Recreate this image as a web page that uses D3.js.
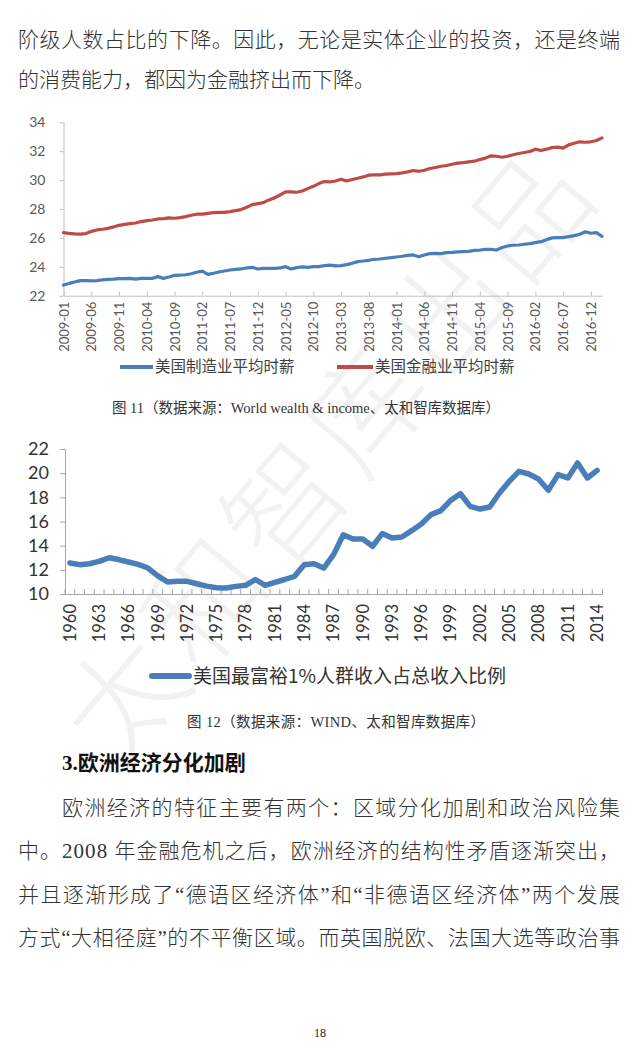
<!DOCTYPE html>
<html>
<head>
<meta charset="utf-8">
<script src="https://cdn.jsdelivr.net/npm/d3@7"></script>
<style>
  body { margin: 0; background: #fff; }
</style>
</head>
<body>
<div id="container"></div>
<script>
// ---- data ----
const monthLabels = ["2009-01","2009-06","2009-11","2010-04","2010-09","2011-02","2011-07","2011-12",
  "2012-05","2012-10","2013-03","2013-08","2014-01","2014-06","2014-11","2015-04","2015-09",
  "2016-02","2016-07","2016-12"];
// monthly, 2009-01 .. 2017-02
const mfgWage = [
  22.74, 22.85, 22.95, 23.04, 23.04, 23.02, 23.04, 23.09, 23.13, 23.15,
  23.18, 23.18, 23.20, 23.15, 23.20, 23.20, 23.20, 23.32, 23.20, 23.29,
  23.41, 23.43, 23.45, 23.52, 23.62, 23.70, 23.48, 23.55, 23.64, 23.71,
  23.78, 23.82, 23.85, 23.92, 23.96, 23.85, 23.89, 23.89, 23.89, 23.92,
  24.01, 23.85, 23.94, 23.99, 23.96, 24.01, 24.01, 24.08, 24.12, 24.06,
  24.08, 24.15, 24.24, 24.36, 24.40, 24.45, 24.52, 24.54, 24.59, 24.63,
  24.68, 24.73, 24.79, 24.82, 24.70, 24.82, 24.91, 24.93, 24.91, 24.98,
  25.00, 25.03, 25.05, 25.07, 25.14, 25.16, 25.21, 25.21, 25.16, 25.33,
  25.44, 25.49, 25.51, 25.56, 25.60, 25.67, 25.74, 25.88, 26.00, 26.02,
  26.02, 26.09, 26.16, 26.25, 26.43, 26.32, 26.36, 26.11];
const finWage = [
  26.36, 26.31, 26.28, 26.26, 26.30, 26.45, 26.55, 26.60, 26.66, 26.76,
  26.87, 26.94, 26.99, 27.03, 27.13, 27.20, 27.24, 27.31, 27.33, 27.38,
  27.36, 27.40, 27.47, 27.57, 27.64, 27.64, 27.70, 27.75, 27.77, 27.77,
  27.82, 27.89, 27.96, 28.12, 28.30, 28.37, 28.44, 28.63, 28.77, 28.97,
  29.18, 29.18, 29.16, 29.25, 29.41, 29.57, 29.76, 29.90, 29.88, 29.94,
  30.06, 29.94, 30.04, 30.13, 30.22, 30.34, 30.36, 30.36, 30.41, 30.43,
  30.45, 30.50, 30.57, 30.66, 30.61, 30.68, 30.80, 30.87, 30.96, 31.01,
  31.10, 31.17, 31.21, 31.26, 31.31, 31.42, 31.52, 31.68, 31.65, 31.58,
  31.65, 31.75, 31.84, 31.91, 31.98, 32.14, 32.05, 32.14, 32.25, 32.28,
  32.21, 32.44, 32.55, 32.65, 32.62, 32.65, 32.74, 32.92];
const wageTicks = [22, 24, 26, 28, 30, 32, 34];
const wageSeries = ["美国制造业平均时薪", "美国金融业平均时薪"];

const yearLabels = ["1960","1963","1966","1969","1972","1975","1978","1981","1984","1987",
  "1990","1993","1996","1999","2002","2005","2008","2011","2014"];
// yearly, 1960 .. 2014
const top1Share = [
  12.57, 12.43, 12.50, 12.70, 13.00, 12.85, 12.65, 12.45, 12.15, 11.50,
  11.00, 11.05, 11.05, 10.85, 10.65, 10.52, 10.50, 10.63, 10.72, 11.20,
  10.72, 10.97, 11.20, 11.46, 12.42, 12.50, 12.15, 13.25, 14.90, 14.55,
  14.55, 13.95, 15.00, 14.63, 14.72, 15.24, 15.80, 16.57, 16.90, 17.75,
  18.30, 17.25, 17.03, 17.20, 18.36, 19.32, 20.15, 19.93, 19.52, 18.58,
  19.88, 19.60, 20.84, 19.60, 20.23];
const shareTicks = [10, 12, 14, 16, 18, 20, 22];
const shareSeries = "美国最富裕1%人群收入占总收入比例";

const topLines = ["阶级人数占比的下降。因此，无论是实体企业的投资，还是终端",
  "的消费能力，都因为金融挤出而下降。"];
const caption11 = "图 11（数据来源：World wealth & income、太和智库数据库）";
const caption12 = "图 12（数据来源：WIND、太和智库数据库）";
const heading = "欧洲经济分化加剧";
const paraLines = ["欧洲经济的特征主要有两个：区域分化加剧和政治风险集",
  "中。2008 年金融危机之后，欧洲经济的结构性矛盾逐渐突出，",
  "并且逐渐形成了“德语区经济体”和“非德语区经济体”两个发展",
  "方式“大相径庭”的不平衡区域。而英国脱欧、法国大选等政治事"];

const BLUE = "#4a7ebb", RED = "#be4b48";
const cjk = "'Noto Sans CJK SC', sans-serif";
const body = "'Liberation Serif', 'Noto Sans CJK SC', serif";
const num = "Lato, 'Noto Sans CJK SC', sans-serif";

const svg = d3.select("#container").append("svg")
  .attr("width", 640).attr("height", 1057);

// watermark
svg.append("text")
  .attr("transform", "translate(330,455) rotate(-50)")
  .attr("text-anchor", "middle")
  .attr("dy", "0.35em")
  .attr("font-family", cjk)
  .attr("font-size", 118)
  .attr("font-weight", 300)
  .attr("letter-spacing", 8)
  .attr("fill", "#000").attr("fill-opacity", 0.05)
  .text("太和智库出品");

// body text
function bodyLine(str, x, y, len) {
  let t = svg.append("text")
    .attr("x", x).attr("y", y)
    .attr("font-family", body)
    .attr("font-size", 21)
    .attr("font-weight", 300)
    .attr("fill", "#333")
    .text(str);
  if (len) t.attr("textLength", len).attr("lengthAdjust", "spacing");
  return t;
}
bodyLine(topLines[0], 18, 47, 602);
bodyLine(topLines[1], 18, 87, 0);

// ---- chart 1 : hourly wages ----
const months = d3.timeMonth.range(new Date(2009, 0, 1), new Date(2017, 2, 1)).map(d3.timeFormat("%Y-%m"));
const x1 = d3.scalePoint().domain(months).range([63.5, 602]);
const y1 = d3.scaleLinear().domain([22, 34]).range([295.7, 122.3]);
const c1 = svg.append("g");

c1.append("g")
  .attr("transform", "translate(63.5,0)")
  .call(d3.axisLeft(y1).tickValues(wageTicks).tickSize(4).tickSizeOuter(0).tickPadding(14))
  .call(g => g.selectAll("path,line").attr("stroke", "#bfbfbf"))
  .call(g => g.selectAll("text").attr("font-family", num).attr("font-size", 14).attr("fill", "#595959"));

c1.append("g")
  .attr("transform", "translate(0,295.7)")
  .call(d3.axisBottom(x1).tickValues(monthLabels).tickSize(-4).tickSizeOuter(0).tickPadding(6))
  .call(g => g.selectAll("path,line").attr("stroke", "#bfbfbf"))
  .call(g => g.selectAll("text")
    .attr("font-family", num).attr("font-size", 13).attr("fill", "#595959")
    .attr("transform", "rotate(-90)")
    .attr("text-anchor", "end")
    .attr("x", -6).attr("y", 0).attr("dy", "0.35em"));

const wageLine = d3.line().x((d, i) => x1(months[i])).y(d => y1(d));
[[mfgWage, BLUE], [finWage, RED]].forEach(([vals, col]) => {
  c1.append("path")
    .attr("d", wageLine(vals))
    .attr("fill", "none")
    .attr("stroke", col)
    .attr("stroke-width", 3.2)
    .attr("stroke-linejoin", "round")
    .attr("stroke-linecap", "round");
});

// legend 1
const leg1 = [[120, 153, BLUE], [337, 373, RED]];
leg1.forEach(([a, b, col], i) => {
  svg.append("line").attr("x1", a).attr("x2", b).attr("y1", 367).attr("y2", 367)
    .attr("stroke", col).attr("stroke-width", 4);
  svg.append("text").attr("x", b + 2).attr("y", 372)
    .attr("font-family", cjk).attr("font-size", 15.5).attr("fill", "#404040")
    .text(wageSeries[i]);
});

svg.append("text").attr("x", 112).attr("y", 413)
  .attr("font-family", body).attr("font-size", 14.5).attr("fill", "#333")
  .attr("textLength", 388).attr("lengthAdjust", "spacing")
  .text(caption11);

// ---- chart 2 : top 1% share ----
const years = d3.range(1960, 2015).map(String);
const x2 = d3.scaleBand().domain(years).range([65, 602]);
const y2 = d3.scaleLinear().domain([10, 22]).range([594, 449]);
const bw = x2.bandwidth();
const c2 = svg.append("g");

c2.append("g")
  .attr("transform", "translate(65,0)")
  .call(d3.axisLeft(y2).tickValues(shareTicks).tickSize(5).tickSizeOuter(0).tickPadding(11))
  .call(g => g.selectAll("path,line").attr("stroke", "#a6a6a6"))
  .call(g => g.selectAll("text").attr("font-family", num).attr("font-size", 18).attr("fill", "#333"));

// tick marks on category boundaries
c2.append("g")
  .attr("transform", "translate(0,594)")
  .call(d3.axisBottom(x2).tickSize(-5).tickSizeOuter(-5).tickFormat(""))
  .call(g => g.selectAll("path,line").attr("stroke", "#a6a6a6"))
  .call(g => g.selectAll(".tick line").attr("x1", -bw / 2).attr("x2", -bw / 2));

c2.append("g")
  .attr("transform", "translate(0,594)")
  .call(d3.axisBottom(x2).tickValues(yearLabels).tickSize(0).tickPadding(10))
  .call(g => g.select(".domain").remove())
  .call(g => g.selectAll("text")
    .attr("font-family", num).attr("font-size", 16.5).attr("fill", "#333")
    .attr("transform", "rotate(-90)")
    .attr("text-anchor", "end")
    .attr("x", -10).attr("y", 0).attr("dy", "0.35em"));

c2.append("path")
  .attr("d", d3.line().x((d, i) => x2(years[i]) + bw / 2).y(d => y2(d))(top1Share))
  .attr("fill", "none")
  .attr("stroke", BLUE)
  .attr("stroke-width", 5.5)
  .attr("stroke-linejoin", "round")
  .attr("stroke-linecap", "round");

svg.append("line").attr("x1", 152).attr("x2", 189).attr("y1", 676).attr("y2", 676)
  .attr("stroke", BLUE).attr("stroke-width", 6).attr("stroke-linecap", "round");
svg.append("text").attr("x", 193).attr("y", 683)
  .attr("font-family", cjk).attr("font-size", 19).attr("fill", "#333")
  .text(shareSeries);

svg.append("text").attr("x", 187).attr("y", 727)
  .attr("font-family", body).attr("font-size", 14.5).attr("fill", "#333")
  .attr("textLength", 298).attr("lengthAdjust", "spacing")
  .text(caption12);

// heading + paragraph
const h = svg.append("text").attr("x", 62).attr("y", 770)
  .attr("font-size", 21).attr("font-weight", "bold").attr("fill", "#111");
h.append("tspan").attr("font-family", "'Liberation Serif', serif").text("3.");
h.append("tspan").attr("font-family", cjk).text(heading);

bodyLine(paraLines[0], 62, 815, 558);
bodyLine(paraLines[1], 18, 858, 602);
bodyLine(paraLines[2], 18, 902, 602);
bodyLine(paraLines[3], 18, 945, 602);

svg.append("text").attr("x", 320).attr("y", 1037)
  .attr("text-anchor", "middle")
  .attr("font-family", "'Liberation Serif', serif").attr("font-size", 12).attr("fill", "#222")
  .text("18");
</script>
</body>
</html>
